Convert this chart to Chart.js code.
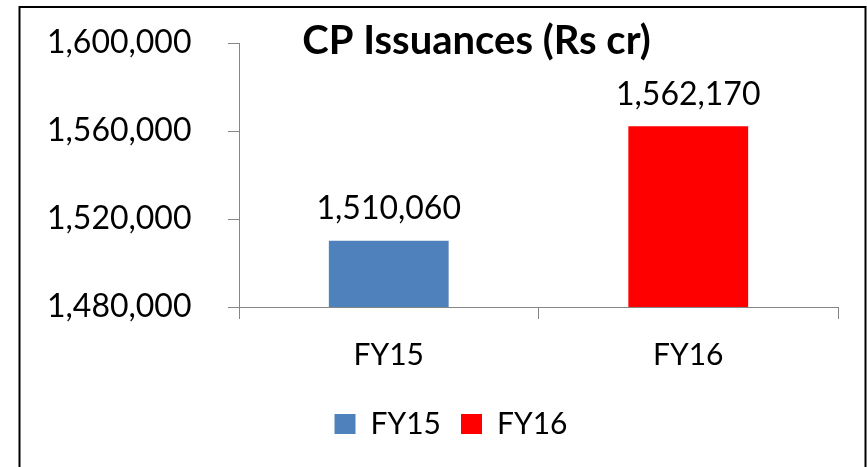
<!DOCTYPE html>
<html><head><meta charset="utf-8">
<script src="https://cdn.jsdelivr.net/npm/chart.js@4.4.1/dist/chart.umd.min.js"></script>
<style>html,body{margin:0;padding:0;background:#fff;overflow:hidden;} canvas{display:block;}</style>
</head><body>
<canvas id="c" width="867" height="467"></canvas>
<script>
// ---- data ----
const categories = ['FY15', 'FY16'];
const issuances = [1510060, 1562170];
const barColors = ['#4F81BD', '#FF0000'];
const yTickValues = [1480000, 1520000, 1560000, 1600000];
const chartTitle = 'CP Issuances (Rs cr)';

const FONT = 'Lato';
const fmt = v => Number(v).toLocaleString('en-US');

const bgBorder = {
  id: 'bgBorder',
  beforeDraw(chart) {
    const c = chart.ctx; c.save(); c.fillStyle = '#fff'; c.fillRect(0, 0, chart.width, chart.height); c.restore();
  },
  afterDraw(chart) {
    const c = chart.ctx; c.save(); c.strokeStyle = '#000'; c.lineWidth = 2;
    c.strokeRect(19.5, 7, 846, chart.height + 20); c.restore();
  }
};

// nudge the legend block to the right, like the original
const legendShift = {
  id: 'legendShift',
  afterLayout(chart) {
    const l = chart.legend; if (!l) return;
    l.left += 8.5; l.right += 8.5;
  }
};

const titlePlugin = {
  id: 'titlePlugin',
  afterDraw(chart) {
    const c = chart.ctx; c.save();
    c.font = 'bold 40px ' + FONT; c.fillStyle = '#000'; c.textAlign = 'center'; c.textBaseline = 'alphabetic';
    c.fillText(chartTitle, 476.5, 54); c.restore();
  }
};

const valueLabels = {
  id: 'valueLabels',
  afterDatasetsDraw(chart) {
    const c = chart.ctx; const meta = chart.getDatasetMeta(0);
    c.save(); c.font = '32px ' + FONT; c.fillStyle = '#000'; c.textAlign = 'center'; c.textBaseline = 'alphabetic';
    meta.data.forEach((bar, i) => { c.fillText(fmt(issuances[i]), bar.x, bar.y - 21.5); });
    c.restore();
  }
};

function draw() {
  new Chart(document.getElementById('c'), {
    type: 'bar',
    data: {
      labels: categories,
      datasets: [{ data: issuances, backgroundColor: barColors, borderWidth: 0, categoryPercentage: 1, barPercentage: 0.4 }]
    },
    options: {
      responsive: false, animation: false, devicePixelRatio: 1,
      layout: { padding: { left: 47, right: 29, top: 43, bottom: 18 } },
      plugins: {
        title: { display: false },
        tooltip: { enabled: false },
        legend: {
          display: true, position: 'bottom',
          labels: {
            boxWidth: 21, boxHeight: 20, padding: 20, color: '#000',
            font: { family: FONT, size: 30 },
            generateLabels: () => categories.map((c, i) => ({
              text: c, fillStyle: barColors[i], strokeStyle: barColors[i], lineWidth: 0,
              hidden: false, index: i, datasetIndex: 0, fontColor: '#000'
            }))
          }
        }
      },
      scales: {
        x: {
          offset: true,
          grid: { display: true, drawOnChartArea: false, drawTicks: true, tickLength: 12, color: '#868686', offset: true },
          border: { display: true, color: '#868686', width: 1 },
          ticks: { color: '#000', font: { family: FONT, size: 30 }, padding: 18, maxRotation: 0 },
          afterFit(s) { s.height = 82; }
        },
        y: {
          min: yTickValues[0], max: yTickValues[yTickValues.length - 1],
          afterBuildTicks(s) { s.ticks = yTickValues.map(v => ({ value: v })); },
          grid: { display: true, drawOnChartArea: false, drawTicks: true, tickLength: 11, color: '#868686' },
          border: { display: true, color: '#868686', width: 1 },
          ticks: { color: '#000', font: { family: FONT, size: 32 }, padding: 4, crossAlign: 'far', callback: v => fmt(v) },
          afterFit(s) { s.width = 192; }
        }
      }
    },
    plugins: [bgBorder, legendShift, valueLabels, titlePlugin]
  });
}
if (document.fonts && document.fonts.load) {
  Promise.all([document.fonts.load('32px Lato'), document.fonts.load('bold 40px Lato')]).then(draw, draw);
} else { draw(); }
</script>
</body></html>
